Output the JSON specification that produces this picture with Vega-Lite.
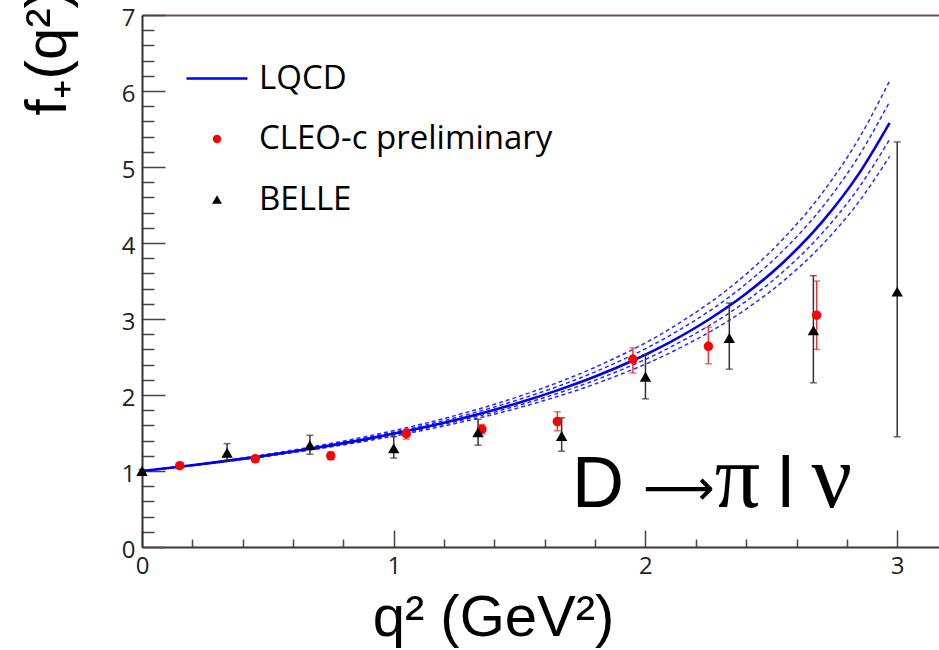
{
  "$schema": "https://vega.github.io/schema/vega-lite/v6.json",
  "width": 797,
  "height": 532,
  "autosize": "none",
  "padding": {"left": 142, "top": 15, "right": 0, "bottom": 103},
  "background": "white",
  "config": {"view": {"stroke": null}, "font": "Open Sans"},
  "datasets": {
    "lqcd": [
      {"q": 0, "f": 1.0, "series": "LQCD"},
      {"q": 0.15, "f": 1.056, "series": "LQCD"},
      {"q": 0.3, "f": 1.117, "series": "LQCD"},
      {"q": 0.45, "f": 1.183, "series": "LQCD"},
      {"q": 0.6, "f": 1.257, "series": "LQCD"},
      {"q": 0.75, "f": 1.337, "series": "LQCD"},
      {"q": 0.9, "f": 1.426, "series": "LQCD"},
      {"q": 1.05, "f": 1.526, "series": "LQCD"},
      {"q": 1.2, "f": 1.636, "series": "LQCD"},
      {"q": 1.35, "f": 1.761, "series": "LQCD"},
      {"q": 1.5, "f": 1.901, "series": "LQCD"},
      {"q": 1.65, "f": 2.061, "series": "LQCD"},
      {"q": 1.8, "f": 2.243, "series": "LQCD"},
      {"q": 1.95, "f": 2.454, "series": "LQCD"},
      {"q": 2.1, "f": 2.7, "series": "LQCD"},
      {"q": 2.25, "f": 2.99, "series": "LQCD"},
      {"q": 2.4, "f": 3.335, "series": "LQCD"},
      {"q": 2.55, "f": 3.754, "series": "LQCD"},
      {"q": 2.7, "f": 4.271, "series": "LQCD"},
      {"q": 2.85, "f": 4.923, "series": "LQCD"},
      {"q": 2.97, "f": 5.581, "series": "LQCD"}
    ],
    "band": [
      {"q": 0, "band": "u2", "f": 1.0},
      {"q": 0.3, "band": "u2", "f": 1.124},
      {"q": 0.6, "band": "u2", "f": 1.275},
      {"q": 0.9, "band": "u2", "f": 1.46},
      {"q": 1.2, "band": "u2", "f": 1.691},
      {"q": 1.5, "band": "u2", "f": 1.984},
      {"q": 1.8, "band": "u2", "f": 2.365},
      {"q": 2.1, "band": "u2", "f": 2.876},
      {"q": 2.4, "band": "u2", "f": 3.591},
      {"q": 2.55, "band": "u2", "f": 4.064},
      {"q": 2.7, "band": "u2", "f": 4.648},
      {"q": 2.85, "band": "u2", "f": 5.387},
      {"q": 2.97, "band": "u2", "f": 6.134},
      {"q": 0, "band": "u1", "f": 1.0},
      {"q": 0.3, "band": "u1", "f": 1.12},
      {"q": 0.6, "band": "u1", "f": 1.266},
      {"q": 0.9, "band": "u1", "f": 1.443},
      {"q": 1.2, "band": "u1", "f": 1.664},
      {"q": 1.5, "band": "u1", "f": 1.943},
      {"q": 1.8, "band": "u1", "f": 2.305},
      {"q": 2.1, "band": "u1", "f": 2.789},
      {"q": 2.4, "band": "u1", "f": 3.464},
      {"q": 2.55, "band": "u1", "f": 3.91},
      {"q": 2.7, "band": "u1", "f": 4.461},
      {"q": 2.85, "band": "u1", "f": 5.158},
      {"q": 2.97, "band": "u1", "f": 5.86},
      {"q": 0, "band": "l1", "f": 1.0},
      {"q": 0.3, "band": "l1", "f": 1.114},
      {"q": 0.6, "band": "l1", "f": 1.249},
      {"q": 0.9, "band": "l1", "f": 1.413},
      {"q": 1.2, "band": "l1", "f": 1.615},
      {"q": 1.5, "band": "l1", "f": 1.868},
      {"q": 1.8, "band": "l1", "f": 2.195},
      {"q": 2.1, "band": "l1", "f": 2.631},
      {"q": 2.4, "band": "l1", "f": 3.235},
      {"q": 2.55, "band": "l1", "f": 3.632},
      {"q": 2.7, "band": "l1", "f": 4.122},
      {"q": 2.85, "band": "l1", "f": 4.74},
      {"q": 2.97, "band": "l1", "f": 5.363},
      {"q": 0, "band": "l2", "f": 1.0},
      {"q": 0.3, "band": "l2", "f": 1.111},
      {"q": 0.6, "band": "l2", "f": 1.242},
      {"q": 0.9, "band": "l2", "f": 1.4},
      {"q": 1.2, "band": "l2", "f": 1.593},
      {"q": 1.5, "band": "l2", "f": 1.835},
      {"q": 1.8, "band": "l2", "f": 2.146},
      {"q": 2.1, "band": "l2", "f": 2.559},
      {"q": 2.4, "band": "l2", "f": 3.131},
      {"q": 2.55, "band": "l2", "f": 3.507},
      {"q": 2.7, "band": "l2", "f": 3.97},
      {"q": 2.85, "band": "l2", "f": 4.553},
      {"q": 2.97, "band": "l2", "f": 5.14}
    ],
    "cleo": [
      {"q": 0.15, "f": 1.07, "lo": 1.04, "hi": 1.1, "series": "CLEO-c preliminary"},
      {"q": 0.45, "f": 1.16, "lo": 1.12, "hi": 1.2, "series": "CLEO-c preliminary"},
      {"q": 0.75, "f": 1.2, "lo": 1.15, "hi": 1.25, "series": "CLEO-c preliminary"},
      {"q": 1.05, "f": 1.49, "lo": 1.42, "hi": 1.55, "series": "CLEO-c preliminary"},
      {"q": 1.35, "f": 1.55, "lo": 1.49, "hi": 1.61, "series": "CLEO-c preliminary"},
      {"q": 1.65, "f": 1.65, "lo": 1.53, "hi": 1.78, "series": "CLEO-c preliminary"},
      {"q": 1.95, "f": 2.47, "lo": 2.29, "hi": 2.62, "series": "CLEO-c preliminary"},
      {"q": 2.25, "f": 2.64, "lo": 2.41, "hi": 2.89, "series": "CLEO-c preliminary"},
      {"q": 2.68, "f": 3.05, "lo": 2.6, "hi": 3.5, "series": "CLEO-c preliminary"}
    ],
    "belle": [
      {"q": 0.0, "f": 1.0, "lo": 0.98, "hi": 1.02, "series": "BELLE"},
      {"q": 0.338, "f": 1.24, "lo": 1.14, "hi": 1.36, "series": "BELLE"},
      {"q": 0.667, "f": 1.34, "lo": 1.22, "hi": 1.47, "series": "BELLE"},
      {"q": 1.0, "f": 1.3, "lo": 1.17, "hi": 1.45, "series": "BELLE"},
      {"q": 1.335, "f": 1.51, "lo": 1.34, "hi": 1.68, "series": "BELLE"},
      {"q": 1.667, "f": 1.46, "lo": 1.26, "hi": 1.7, "series": "BELLE"},
      {"q": 2.0, "f": 2.24, "lo": 1.95, "hi": 2.53, "series": "BELLE"},
      {"q": 2.333, "f": 2.75, "lo": 2.34, "hi": 3.21, "series": "BELLE"},
      {"q": 2.667, "f": 2.85, "lo": 2.16, "hi": 3.57, "series": "BELLE"},
      {"q": 3.0, "f": 3.36, "lo": 1.45, "hi": 5.33, "series": "BELLE"}
    ]
  },
  "layer": [
    {
      "data": {"name": "band"},
      "mark": {"type": "line", "color": "#2a2aff", "strokeWidth": 1.5, "strokeDash": [4, 3], "interpolate": "monotone"},
      "encoding": {
        "x": {"field": "q", "type": "quantitative", "scale": {"domain": [0, 3.166], "nice": false, "zero": false},
          "axis": {"orient": "bottom", "values": [0.2, 0.4, 0.6, 0.8, 1.2, 1.4, 1.6, 1.8, 2.2, 2.4, 2.6, 2.8], "tickSize": -8, "tickColor": "#444", "tickWidth": 1.5, "labels": false, "domain": false, "grid": false, "title": null}},
        "y": {"field": "f", "type": "quantitative", "scale": {"domain": [0, 7], "nice": false, "zero": false},
          "axis": {"orient": "left", "values": [0.2, 0.4, 0.6, 0.8, 1.2, 1.4, 1.6, 1.8, 2.2, 2.4, 2.6, 2.8, 3.2, 3.4, 3.6, 3.8, 4.2, 4.4, 4.6, 4.8, 5.2, 5.4, 5.6, 5.8, 6.2, 6.4, 6.6, 6.8], "tickSize": -12, "tickColor": "#444", "tickWidth": 1.5, "labels": false, "domain": false, "grid": false, "title": null}},
        "detail": {"field": "band", "type": "nominal"}
      }
    },
    {
      "data": {"name": "lqcd"},
      "mark": {"type": "line", "strokeWidth": 2.6, "interpolate": "monotone"},
      "encoding": {
        "x": {"field": "q", "type": "quantitative", "scale": {"domain": [0, 3.166], "nice": false, "zero": false},
          "axis": {"orient": "bottom", "values": [0, 1, 2, 3], "tickSize": -17, "tickColor": "#444", "tickWidth": 1.5, "labels": true, "labelFont": "Open Sans", "labelFontSize": 24, "labelColor": "#222", "labelPadding": 24, "labelFlush": false, "labelOverlap": false, "domain": true, "domainColor": "#443333", "domainWidth": 2, "grid": false,
            "title": "q² (GeV²)", "titleFont": "Liberation Sans", "titleFontSize": 58, "titleFontWeight": "normal", "titleColor": "#000", "titleAlign": "center", "titleBaseline": "alphabetic", "titleX": 351, "titleY": 88}},
        "y": {"field": "f", "type": "quantitative", "scale": {"domain": [0, 7], "nice": false, "zero": false},
          "axis": {"orient": "left", "values": [0, 1, 2, 3, 4, 5, 6, 7], "tickSize": -23, "tickColor": "#444", "tickWidth": 1.5, "labels": true, "labelFont": "Open Sans", "labelFontSize": 24, "labelColor": "#222", "labelPadding": 30, "labelFlush": false, "labelOverlap": false, "labelOffset": 3, "domain": true, "domainColor": "#333", "domainWidth": 2, "grid": false,
            "title": "f₊(q²)", "titleFont": "Liberation Sans", "titleFontSize": 58, "titleFontWeight": "normal", "titleColor": "#000", "titleAngle": -90, "titleAlign": "left", "titleBaseline": "alphabetic", "titleX": -77, "titleY": 100}},
        "color": {"field": "series", "type": "nominal",
          "scale": {"domain": ["LQCD", "CLEO-c preliminary", "BELLE"], "range": ["#0000ee", "#ff0000", "#000000"]},
          "legend": {"title": null, "orient": "none", "legendX": 58.5, "legendY": 47, "padding": 0, "symbolSize": 3721, "labelFont": "Open Sans", "labelFontSize": 33, "labelColor": "#000", "labelOffset": 25.5, "labelLimit": 0, "rowPadding": 26.5,
            "encode": {"symbols": {"update": {
              "shape": {"signal": "datum.value === 'LQCD' ? 'M-1,-0.04H1V0.04H-1Z' : (datum.value === 'BELLE' ? 'triangle-up' : 'circle')"},
              "size": {"signal": "datum.value === 'LQCD' ? 3721 : (datum.value === 'BELLE' ? 100 : 70)"},
              "fill": {"scale": "color", "field": "value"},
              "stroke": {"value": "transparent"},
              "strokeWidth": {"value": 0},
              "opacity": {"value": 1}}}}}
        }
      }
    },
    {
      "data": {"name": "cleo"},
      "mark": {"type": "errorbar", "ticks": {"size": 7}, "thickness": 1.5, "color": "#ee3333"},
      "encoding": {
        "x": {"field": "q", "type": "quantitative", "scale": {"domain": [0, 3.166], "nice": false, "zero": false},
          "axis": {"orient": "top", "ticks": false, "labels": false, "domain": true, "domainColor": "#665555", "domainWidth": 2, "grid": false, "title": null}},
        "y": {"field": "lo", "type": "quantitative", "scale": {"domain": [0, 7], "nice": false, "zero": false}, "axis": null},
        "y2": {"field": "hi"}
      }
    },
    {
      "data": {"name": "belle"},
      "mark": {"type": "errorbar", "ticks": {"size": 7}, "thickness": 1.5, "color": "#333333"},
      "encoding": {
        "x": {"field": "q", "type": "quantitative", "scale": {"domain": [0, 3.166], "nice": false, "zero": false}, "axis": null},
        "y": {"field": "lo", "type": "quantitative", "scale": {"domain": [0, 7], "nice": false, "zero": false}, "axis": null},
        "y2": {"field": "hi"}
      }
    },
    {
      "data": {"name": "cleo"},
      "mark": {"type": "point", "shape": "circle", "filled": true, "size": 90, "opacity": 1},
      "encoding": {
        "x": {"field": "q", "type": "quantitative", "scale": {"domain": [0, 3.166], "nice": false, "zero": false}, "axis": null},
        "y": {"field": "f", "type": "quantitative", "scale": {"domain": [0, 7], "nice": false, "zero": false}, "axis": null},
        "color": {"field": "series", "type": "nominal", "scale": {"domain": ["LQCD", "CLEO-c preliminary", "BELLE"], "range": ["#0000ee", "#ff0000", "#000000"]}}
      }
    },
    {
      "data": {"name": "belle"},
      "mark": {"type": "point", "shape": "triangle-up", "filled": true, "size": 130, "opacity": 1},
      "encoding": {
        "x": {"field": "q", "type": "quantitative", "scale": {"domain": [0, 3.166], "nice": false, "zero": false}, "axis": null},
        "y": {"field": "f", "type": "quantitative", "scale": {"domain": [0, 7], "nice": false, "zero": false}, "axis": null},
        "color": {"field": "series", "type": "nominal", "scale": {"domain": ["LQCD", "CLEO-c preliminary", "BELLE"], "range": ["#0000ee", "#ff0000", "#000000"]}}
      }
    },
    {
      "data": {"values": [{"label": "D"}]},
      "mark": {"type": "text", "font": "Liberation Sans", "fontSize": 72, "align": "left", "baseline": "alphabetic", "color": "#000"},
      "encoding": {
        "text": {"field": "label", "type": "nominal"},
        "x": {"datum": 1.708, "type": "quantitative", "scale": {"domain": [0, 3.166], "nice": false, "zero": false}, "axis": null},
        "y": {"datum": 0.526, "type": "quantitative", "scale": {"domain": [0, 7], "nice": false, "zero": false}, "axis": null}
      }
    },
    {
      "data": {"values": [{"label": "⟶"}]},
      "mark": {"type": "text", "font": "DejaVu Sans", "fontSize": 50, "align": "left", "baseline": "alphabetic", "color": "#000"},
      "encoding": {
        "text": {"field": "label", "type": "nominal"},
        "x": {"datum": 1.99, "type": "quantitative", "scale": {"domain": [0, 3.166], "nice": false, "zero": false}, "axis": null},
        "y": {"datum": 0.55, "type": "quantitative", "scale": {"domain": [0, 7], "nice": false, "zero": false}, "axis": null}
      }
    },
    {
      "data": {"values": [{"label": "π"}]},
      "mark": {"type": "text", "font": "Liberation Serif", "fontSize": 90, "align": "left", "baseline": "alphabetic", "color": "#000"},
      "encoding": {
        "text": {"field": "label", "type": "nominal"},
        "x": {"datum": 2.275, "type": "quantitative", "scale": {"domain": [0, 3.166], "nice": false, "zero": false}, "axis": null},
        "y": {"datum": 0.526, "type": "quantitative", "scale": {"domain": [0, 7], "nice": false, "zero": false}, "axis": null}
      }
    },
    {
      "data": {"values": [{"label": "l"}]},
      "mark": {"type": "text", "font": "Liberation Sans", "fontSize": 72, "align": "left", "baseline": "alphabetic", "color": "#000"},
      "encoding": {
        "text": {"field": "label", "type": "nominal"},
        "x": {"datum": 2.525, "type": "quantitative", "scale": {"domain": [0, 3.166], "nice": false, "zero": false}, "axis": null},
        "y": {"datum": 0.526, "type": "quantitative", "scale": {"domain": [0, 7], "nice": false, "zero": false}, "axis": null}
      }
    },
    {
      "data": {"values": [{"label": "ν"}]},
      "mark": {"type": "text", "font": "Liberation Serif", "fontSize": 90, "align": "left", "baseline": "alphabetic", "color": "#000"},
      "encoding": {
        "text": {"field": "label", "type": "nominal"},
        "x": {"datum": 2.66, "type": "quantitative", "scale": {"domain": [0, 3.166], "nice": false, "zero": false}, "axis": null},
        "y": {"datum": 0.526, "type": "quantitative", "scale": {"domain": [0, 7], "nice": false, "zero": false}, "axis": null}
      }
    }
  ],
  "resolve": {"axis": {"x": "independent", "y": "independent"}}
}
